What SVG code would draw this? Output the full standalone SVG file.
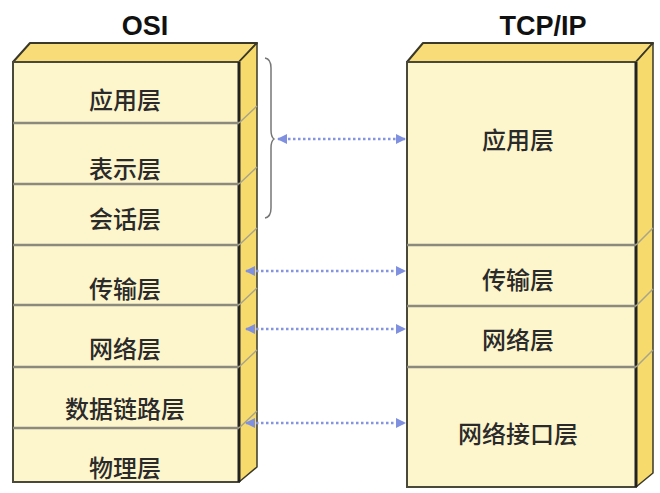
<svg xmlns="http://www.w3.org/2000/svg" width="660" height="493" viewBox="0 0 660 493">
<style>
.front{fill:#fdf5cc;stroke:#4a4838;stroke-width:2}
.top{fill:#f7dc78;stroke:#3a3828;stroke-width:2;stroke-linejoin:round}
.side{fill:#f7da6c;stroke:#3a3828;stroke-width:1.5;stroke-linejoin:round}
.edge{stroke:#222;stroke-width:3}
.div{stroke:#8c8a7c;stroke-width:2.5}
.sdiv{stroke:#a8a48c;stroke-width:1.5;fill:none}
.lbl{font-family:"Noto Sans CJK SC","Noto Sans",sans-serif;font-size:24px;font-weight:500;fill:#2a2a2a;text-anchor:middle;dominant-baseline:central}
.title{font-family:"Liberation Sans",Arial,sans-serif;font-weight:bold;font-size:27px;fill:#111;text-anchor:middle}
.arr{stroke:#8494e0;stroke-width:2.5;stroke-dasharray:2.5 2.5;fill:none}
</style>
<defs>
<marker id="ah" viewBox="0 0 10 10" refX="9" refY="5" markerWidth="4" markerHeight="4" orient="auto-start-reverse">
<path d="M0,0 L10,5 L0,10 z" fill="#7f90e0"/>
</marker>
</defs>
<text class="title" x="145" y="35">OSI</text>
<text class="title" x="543" y="35">TCP/IP</text>
<g id="osi">
<polygon class="top" points="13,62 30,43 257,43 239,62"/>
<polygon class="side" points="239,62 257,43 257,467 239,482"/>
<rect class="front" x="13" y="62" width="226" height="420"/>
<line class="edge" x1="239" y1="62" x2="239" y2="482"/>
<g>
<line class="div" x1="13" y1="123" x2="239" y2="123"/>
<line class="div" x1="13" y1="184" x2="239" y2="184"/>
<line class="div" x1="13" y1="245" x2="239" y2="245"/>
<line class="div" x1="13" y1="305" x2="239" y2="305"/>
<line class="div" x1="13" y1="367" x2="239" y2="367"/>
<line class="div" x1="13" y1="428" x2="239" y2="428"/>
<path class="sdiv" d="M239,123 L257,106 M239,184 L257,167 M239,245 L257,228 M239,305 L257,288 M239,367 L257,350 M239,428 L257,411"/>
</g>
<text class="lbl" x="125" y="98">应用层</text>
<text class="lbl" x="125" y="167">表示层</text>
<text class="lbl" x="125" y="217">会话层</text>
<text class="lbl" x="125" y="287">传输层</text>
<text class="lbl" x="125" y="347">网络层</text>
<text class="lbl" x="125" y="407">数据链路层</text>
<text class="lbl" x="125" y="466">物理层</text>
</g>
<g id="tcpip">
<polygon class="top" points="407,62 423,43 653,43 636,62"/>
<polygon class="side" points="636,62 653,43 653,473 636,487"/>
<rect class="front" x="407" y="62" width="229" height="425"/>
<line class="edge" x1="636" y1="62" x2="636" y2="487"/>
<line class="div" x1="407" y1="245" x2="636" y2="245"/>
<line class="div" x1="407" y1="306" x2="636" y2="306"/>
<line class="div" x1="407" y1="367" x2="636" y2="367"/>
<path class="sdiv" d="M636,245 L653,228 M636,306 L653,289 M636,367 L653,350"/>
<text class="lbl" x="518" y="138">应用层</text>
<text class="lbl" x="518" y="278">传输层</text>
<text class="lbl" x="518" y="338">网络层</text>
<text class="lbl" x="518" y="432">网络接口层</text>
</g>
<g id="connectors">
<path d="M265,58 Q271,59 271,68 L271,130 Q271,137 274,139 Q271,141 271,148 L271,208 Q271,217 265,218" fill="none" stroke="#777" stroke-width="1.5"/>
<line class="arr" x1="278" y1="139" x2="405" y2="139" marker-start="url(#ah)" marker-end="url(#ah)"/>
<line class="arr" x1="246" y1="271" x2="405" y2="271" marker-start="url(#ah)" marker-end="url(#ah)"/>
<line class="arr" x1="246" y1="329" x2="405" y2="329" marker-start="url(#ah)" marker-end="url(#ah)"/>
<line class="arr" x1="246" y1="423" x2="405" y2="423" marker-start="url(#ah)" marker-end="url(#ah)"/>
</g>
</svg>
